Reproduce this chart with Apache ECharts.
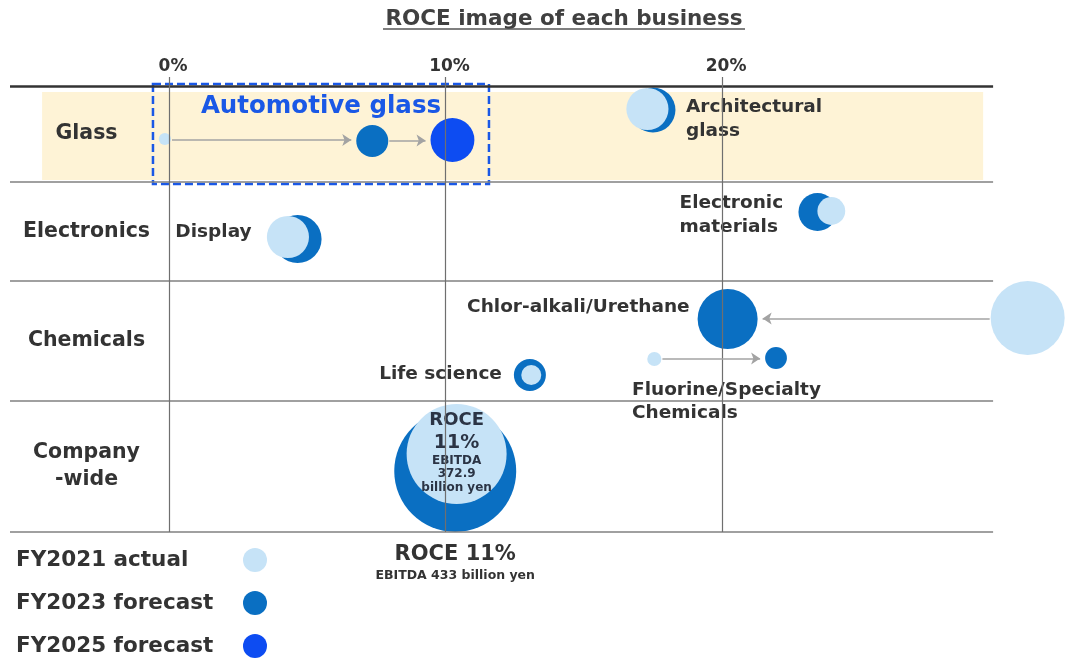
<!DOCTYPE html>
<html>
<head>
<meta charset="utf-8">
<title>ROCE image of each business</title>
<script src="https://cdn.jsdelivr.net/npm/echarts@6/dist/echarts.min.js"></script>
<style>
  html, body { margin: 0; padding: 0; background: #fff; }
  #chart { width: 1065px; height: 659px; }
</style>
</head>
<body>
<div id="chart"></div>
<script>
  // ROCE (%) of each business
  const businesses = ['Automotive glass', 'Architectural\nglass', 'Display', 'Electronic\nmaterials',
    'Chlor-alkali/Urethane', 'Fluorine/Specialty\nChemicals', 'Life science', 'Company-wide']
  const roce2021 = [-0.15, 17.3, 4.3, 23.95, 31.05, 17.55, 13.1, 10.4]
  const roce2023 = [7.35, 17.5, 4.65, 23.45, 20.2, 21.95, 13.05, 10.35]
  const roce2025 = [10.25]
  // lane of each bubble inside its segment row (schematic, 0 = top line)
  const lane2021 = [5.3, 2.3, 15.1, 12.5, 23.2, 27.3, 28.9, 36.8]
  const lane2023 = [5.5, 2.4, 15.3, 12.6, 23.3, 27.2, 28.9, 38.5]
  const lane2025 = [5.4]
  // bubble size (EBITDA scale, as drawn)
  const size2021 = [6, 71, 71, 31, 219, 8, 16, 400]
  const size2023 = [41, 81, 92, 58, 144, 19, 41, 595]
  const size2025 = [77]

  const companyRoce = [11, 11]
  const companyEbitda = [372.9, 433]

  const segments = ['Glass', 'Electronics', 'Chemicals', 'Company\n-wide']
  const segmentEdges = [0, 9.6, 19.5, 31.5, 44.6]
  const ticks = [0, 10, 20]
  const seriesNames = ['FY2021 actual', 'FY2023 forecast', 'FY2025 forecast']
  // arrows: [business, from, to]
  const moves = [[0, 2021, 2023], [0, 2023, 2025], [4, 2021, 2023], [5, 2021, 2023]]

  const font = 'DejaVu Sans'
  const textColor = '#333'
  const colors = { 2021: '#c6e3f7', 2023: '#0a6fc2', 2025: '#0d4cf2' }

  const xMin = -5.75
  const xMax = 32.4
  const gridLeft = 10
  const gridWidth = 1055
  const ppu = gridWidth / (xMax - xMin)
  const lineEnd = 29.8

  const years = {
    2021: { roce: roce2021, lane: lane2021, size: size2021 },
    2023: { roce: roce2023, lane: lane2023, size: size2023 },
    2025: { roce: roce2025, lane: lane2025, size: size2025 }
  }
  const bubble = v => 5 * Math.sqrt(v)

  const labelPlace = {
    1: { align: 'left', offset: [33, 9] },
    2: { align: 'right', offset: [-46, -7] },
    3: { align: 'left', offset: [-138, 3] },
    4: { align: 'right', offset: [-38, -12] },
    5: { align: 'left', offset: [-144, 44], lineHeight: 23 },
    6: { align: 'right', offset: [-28, -1] }
  }

  const bubbleData = (year) => {
    const y = years[year]
    return y.roce.map((x, i) => {
      const item = { value: [x, y.lane[i], y.size[i]] }
      if (year === 2023 && labelPlace[i]) {
        const p = labelPlace[i]
        item.label = {
          show: true, position: 'inside', formatter: businesses[i],
          align: p.align, offset: p.offset, lineHeight: p.lineHeight || 24,
          fontFamily: font, fontSize: 18.5, fontWeight: 'bold', color: textColor
        }
      }
      if (i === 7 && year === 2021) {
        item.label = {
          show: true, position: 'inside', offset: [0, -2],
          formatter: `{a|ROCE}\n{b|${companyRoce[0]}%}\n{c|EBITDA}\n{c|${companyEbitda[0]}}\n{c|billion yen}`,
          rich: {
            a: { fontFamily: font, fontSize: 18, fontWeight: 'bold', color: '#2b3445', lineHeight: 22 },
            b: { fontFamily: font, fontSize: 19, fontWeight: 'bold', color: '#2b3445', lineHeight: 22 },
            c: { fontFamily: font, fontSize: 12, fontWeight: 'bold', color: '#2b3445', lineHeight: 13.5 }
          }
        }
      }
      if (i === 7 && year === 2023) {
        item.label = {
          show: true, position: 'inside', offset: [0, 93],
          formatter: `{a|ROCE ${companyRoce[1]}%}\n{b|EBITDA ${companyEbitda[1]} billion yen}`,
          rich: {
            a: { fontFamily: font, fontSize: 21, fontWeight: 'bold', color: textColor, lineHeight: 24 },
            b: { fontFamily: font, fontSize: 12.5, fontWeight: 'bold', color: textColor, lineHeight: 18 }
          }
        }
      }
      return item
    })
  }

  const bubbleSeries = (year, name, z) => ({
    name: name,
    type: 'scatter',
    z: z,
    silent: true,
    symbolSize: v => bubble(v[2]),
    itemStyle: { color: colors[year], opacity: 1 },
    data: bubbleData(year)
  })

  // grid lines of the table
  const frameLines = []
  segmentEdges.forEach((y, i) => {
    frameLines.push([
      { coord: [xMin, y], lineStyle: i === 0 ? { color: '#333', width: 2.5, type: 'solid' } : { color: '#808080', width: 1.5, type: 'solid' } },
      { coord: [lineEnd, y] }
    ])
  })
  ticks.forEach(t => {
    frameLines.push([
      { coord: [t, -0.9], lineStyle: { color: '#6f6f6f', width: 1.2, type: 'solid' } },
      { coord: [t, segmentEdges[segmentEdges.length - 1]] }
    ])
  })

  const frameAreas = [
    [{ coord: [-4.59, 0.6], itemStyle: { color: '#fef3d6' } }, { coord: [29.44, 9.4] }]
  ]
  segments.forEach((s, i) => {
    frameAreas.push([
      {
        coord: [xMin, segmentEdges[i]], name: s,
        itemStyle: { color: 'transparent' },
        label: { show: true, position: 'inside', offset: [-3, 0], fontFamily: font, fontSize: 20.5, fontWeight: 'bold', color: textColor, lineHeight: 27 }
      },
      { coord: [0, segmentEdges[i + 1]] }
    ])
  })
  frameAreas.push([
    {
      coord: [-0.58, -0.2], name: businesses[0],
      itemStyle: { color: 'transparent', borderColor: '#1a58e6', borderWidth: 2.5, borderType: [8, 4] },
      label: { show: true, position: 'insideTop', offset: [0, 6], fontFamily: font, fontSize: 24.5, fontWeight: 'bold', color: '#1a58e6' }
    },
    { coord: [11.57, 9.8] }
  ])

  const arrows = moves.map(([i, a, b]) => {
    const ya = years[a], yb = years[b]
    const xa = ya.roce[i], xb = yb.roce[i]
    const dir = xb > xa ? 1 : -1
    const ra = bubble(ya.size[i]) / 2, rb = bubble(yb.size[i]) / 2
    const lane = (ya.lane[i] + yb.lane[i]) / 2
    return [
      { coord: [xa + dir * (ra + 1) / ppu, lane] },
      { coord: [xb - dir * (rb + 5) / ppu, lane] }
    ]
  })

  const chart = echarts.init(document.getElementById('chart'))
  chart.setOption({
    animation: false,
    backgroundColor: '#fff',
    graphic: [
      { type: 'text', x: 564, y: 19, style: { text: 'ROCE image of each business', textAlign: 'center', textVerticalAlign: 'middle', font: 'bold 21.5px "DejaVu Sans"', fill: '#404040' } },
      { type: 'line', shape: { x1: 383, y1: 29, x2: 745, y2: 29 }, style: { stroke: '#555', lineWidth: 1.5 } }
    ],
    legend: {
      data: seriesNames,
      orient: 'vertical',
      left: 16, top: 548,
      padding: 0,
      align: 'right',
      icon: 'circle',
      itemWidth: 24, itemHeight: 24, itemGap: 19,
      selectedMode: false,
      formatter: name => `{t|${name}}`,
      textStyle: {
        rich: { t: { fontFamily: font, fontSize: 21.5, fontWeight: 'bold', color: textColor, width: 222, align: 'left' } }
      }
    },
    grid: { left: gridLeft, width: gridWidth, top: 77, height: 455 },
    xAxis: {
      type: 'value', min: xMin, max: xMax, position: 'top',
      axisLine: { show: false }, axisTick: { show: false }, splitLine: { show: false },
      axisLabel: {
        customValues: ticks, formatter: '{value}%', margin: 2, padding: [0, 0, 0, 8],
        fontFamily: font, fontSize: 17, fontWeight: 'bold', color: textColor
      }
    },
    yAxis: { type: 'value', min: -0.9, max: 44.6, inverse: true, show: false },
    series: [
      {
        name: 'frame', type: 'scatter', z: 1, silent: true, data: [],
        markArea: { silent: true, data: frameAreas },
        markLine: { silent: true, symbol: ['none', 'none'], label: { show: false }, data: frameLines }
      },
      {
        name: 'arrows', type: 'scatter', z: 2, silent: true, data: [],
        markLine: {
          silent: true, symbol: ['none', 'arrow'], symbolSize: 9, label: { show: false },
          lineStyle: { color: '#a3a3a3', width: 1.6, type: 'solid' }, data: arrows
        }
      },
      bubbleSeries(2023, seriesNames[1], 3),
      bubbleSeries(2025, seriesNames[2], 3),
      bubbleSeries(2021, seriesNames[0], 4)
    ]
  })
</script>
</body>
</html>
